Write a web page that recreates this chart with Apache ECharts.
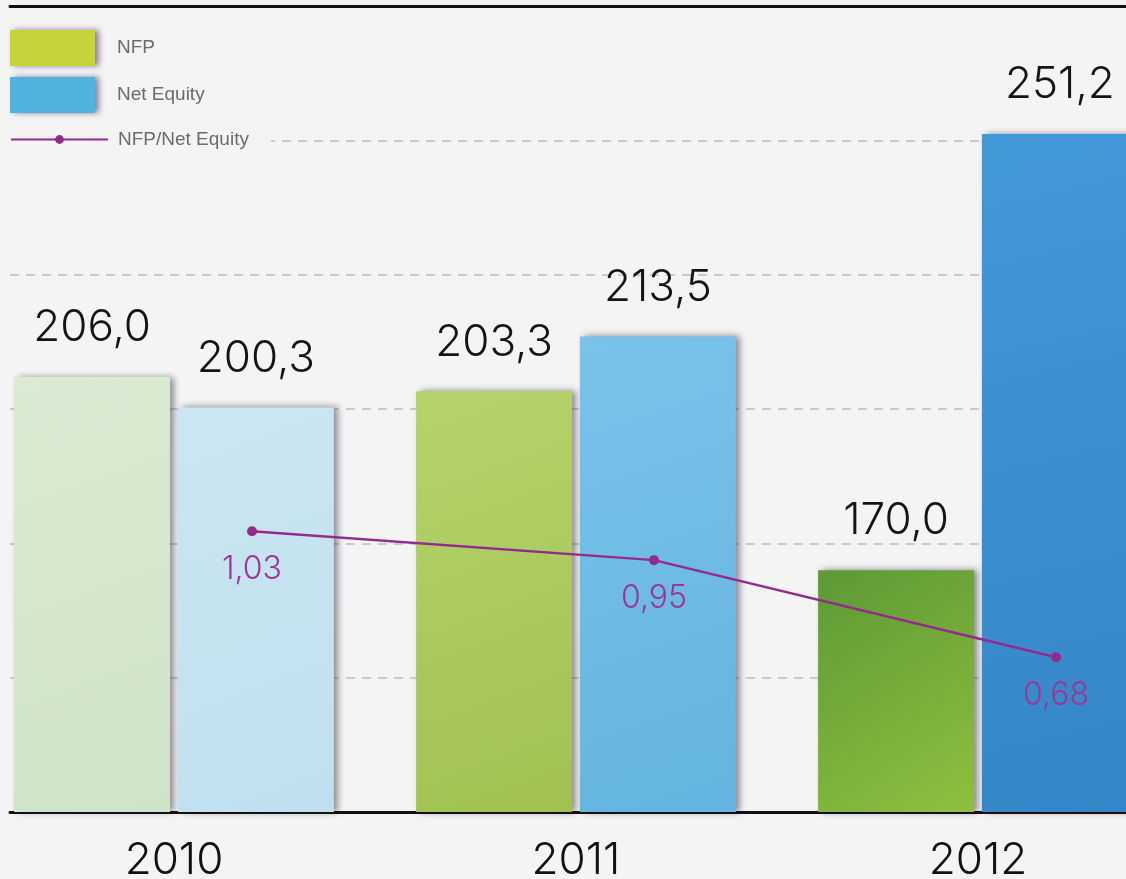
<!DOCTYPE html>
<html>
<head>
<meta charset="utf-8">
<style>
  html, body { margin: 0; padding: 0; background: #f4f4f4; }
  #chart { width: 1126px; height: 879px; }
</style>
<script src="https://cdn.jsdelivr.net/npm/echarts@6/dist/echarts.min.js"></script>
</head>
<body>
<div id="chart"></div>
<script>
// Years and values (millions)
var years = ['2010', '2011', '2012'];
var nfp = [206.0, 203.3, 170.0];
var netEquity = [200.3, 213.5, 251.2];
var ratio = [1.03, 0.95, 0.68];

// Per-year fills: lighter in 2010, deeper in 2012
var nfpFills = [['#d9ebd2', '#cfe3c8'], ['#b5d36b', '#a0c152'], ['#5c9a35', '#8fbf3e']];
var eqFills = [['#cbe6f2', '#c0dfee'], ['#79c3ea', '#63b4e0'], ['#4398d6', '#3586c8']];

function grad(c) {
  return new echarts.graphic.LinearGradient(0, 0, 1, 1, [
    { offset: 0, color: c[0] }, { offset: 1, color: c[1] }
  ]);
}

var barShadow = {
  shadowColor: 'rgba(20,20,40,0.5)',
  shadowBlur: 7,
  shadowOffsetX: 4,
  shadowOffsetY: 0
};

function comma(v, d) { return v.toFixed(d).replace('.', ','); }

var numFont = 'Inter, "DejaVu Sans", sans-serif';
var legendFont = '"Liberation Sans", Arial, sans-serif';

var chart = echarts.init(document.getElementById('chart'));
chart.setOption({
  backgroundColor: '#f4f4f4',
  animation: false,
  legend: [{
    orient: 'vertical',
    left: 10,
    top: 30,
    padding: 0,
    icon: 'rect',
    itemWidth: 85,
    itemHeight: 36,
    itemGap: 11,
    data: ['NFP', 'Net Equity'],
    itemStyle: { shadowColor: 'rgba(60,30,80,0.55)', shadowBlur: 6, shadowOffsetX: 4 },
    textStyle: { fontFamily: legendFont, fontSize: 19, color: '#6b6b6b', padding: [4, 0, 0, 17] }
  }, {
    left: 10,
    top: 130,
    padding: [0, 22, 0, 0],
    backgroundColor: '#f4f4f4',
    itemWidth: 97,
    itemHeight: 11,
    data: ['NFP/Net Equity'],
    textStyle: { fontFamily: legendFont, fontSize: 19, color: '#6b6b6b', padding: [2, 0, 0, 5] }
  }],
  grid: [
    { left: -27, right: -53, top: 6, bottom: 67, outerBoundsMode: 'none' },
    { left: 10, right: 0, top: 6, bottom: 67, outerBoundsMode: 'none' },
    { left: 51, right: -131, top: 6, bottom: 67, outerBoundsMode: 'none' }
  ],
  xAxis: [{
    type: 'category', gridIndex: 0, data: years,
    axisLine: { show: false }, axisTick: { show: false },
    axisLabel: { fontFamily: numFont, fontWeight: 300, fontSize: 44, color: '#111', margin: 27 }
  }, {
    type: 'value', gridIndex: 1, min: 0, max: 1, position: 'bottom',
    axisLine: { show: true, onZero: false, lineStyle: { color: '#111', width: 3 } },
    axisTick: { show: false }, axisLabel: { show: false }, splitLine: { show: false }
  }, {
    type: 'value', gridIndex: 1, min: 0, max: 1, position: 'top',
    axisLine: { show: true, onZero: false, lineStyle: { color: '#111', width: 3 } },
    axisTick: { show: false }, axisLabel: { show: false }, splitLine: { show: false }
  }, {
    type: 'category', gridIndex: 2, data: years, show: false
  }],
  yAxis: [{
    type: 'value', gridIndex: 0, min: 125, max: 275, interval: 25, show: false
  }, {
    type: 'value', gridIndex: 1, min: 125, max: 275, interval: 25,
    axisLine: { show: false }, axisTick: { show: false }, axisLabel: { show: false },
    splitLine: { show: true, lineStyle: { color: '#bdbdbd', width: 1.5, type: [9, 7] } }
  }, {
    type: 'value', gridIndex: 2, min: 0.25, max: 2.49, show: false
  }],
  series: [{
    name: 'NFP',
    type: 'bar',
    xAxisIndex: 0, yAxisIndex: 0,
    barWidth: 156,
    barGap: '5%',
    itemStyle: Object.assign({ color: '#c7d33a' }, barShadow),
    data: nfp.map(function (v, i) { return { value: v, itemStyle: { color: grad(nfpFills[i]) } }; }),
    label: {
      show: true, position: 'top', distance: 27,
      fontFamily: numFont, fontWeight: 300, fontSize: 44, color: '#141414',
      formatter: function (p) { return comma(p.value, 1); }
    }
  }, {
    name: 'Net Equity',
    type: 'bar',
    xAxisIndex: 0, yAxisIndex: 0,
    barWidth: 156,
    itemStyle: Object.assign({ color: '#4fb3df' }, barShadow),
    data: netEquity.map(function (v, i) { return { value: v, itemStyle: { color: grad(eqFills[i]) } }; }),
    label: {
      show: true, position: 'top', distance: 27,
      fontFamily: numFont, fontWeight: 300, fontSize: 44, color: '#141414',
      formatter: function (p) { return comma(p.value, 1); }
    }
  }, {
    name: 'NFP/Net Equity',
    type: 'line',
    xAxisIndex: 3, yAxisIndex: 2,
    data: ratio,
    symbol: 'circle',
    symbolSize: 10,
    z: 5,
    lineStyle: { color: '#952a8d', width: 2.5 },
    itemStyle: { color: '#952a8d' },
    label: {
      show: true, position: 'bottom', distance: 17,
      fontFamily: numFont, fontWeight: 300, fontSize: 32, color: '#9d3594',
      formatter: function (p) { return comma(p.value, 2); }
    }
  }]
});
</script>
</body>
</html>
